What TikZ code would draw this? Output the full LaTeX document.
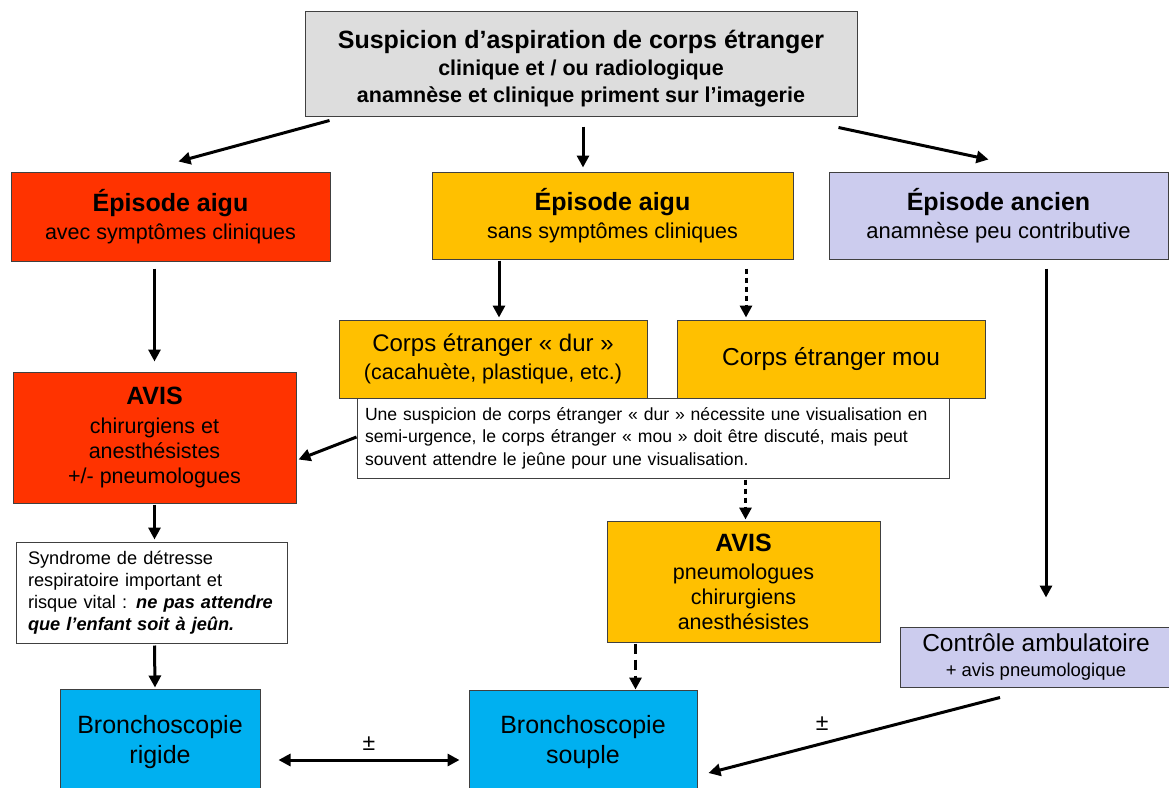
\documentclass[tikz,border=0pt]{standalone}
\usepackage{fontspec}
\setmainfont{Liberation Sans}
\usetikzlibrary{arrows.meta,calc}
\tikzset {>={Triangle[width=12pt,length=12pt]}}

\definecolor{rouge}{HTML}{FF3300}
\definecolor{jaune}{HTML}{FFC000}
\definecolor{lavande}{HTML}{CCCCEE}
\definecolor{gris}{HTML}{DDDDDD}
\definecolor{bleu}{HTML}{00B0F0}

\tikzset{
  cadre/.style={draw=black!75, line width=1pt, inner sep=0pt, align=center},
  fleche/.style={->, line width=3pt},
  pointille/.style={fleche, dash pattern=on 5pt off 4pt},
  tirets/.style={fleche, dash pattern=on 10pt off 6pt},
}

\begin{document}
\begin{tikzpicture}[x=1pt,y=-1pt]
\useasboundingbox (0,0) rectangle (1169,787);
\clip (0,0) rectangle (1169,787);

% Question de depart
\node [cadre, fill=gris, minimum width=552pt, minimum height=105pt,
       font=\fontsize{21.5}{26.5}\selectfont\bfseries] (susp) at (581,63.5)
  {\rule{0pt}{28pt}{\fontsize{25}{26.5}\selectfont Suspicion d’aspiration de corps étranger}\\[1pt]
   clinique et / ou radiologique\\
   anamnèse et clinique priment sur l’imagerie};

% Les trois episodes
\node [cadre, fill=rouge, minimum width=319pt, minimum height=89pt,
       font=\fontsize{21.5}{28}\selectfont] (aigu) at (170.5,216.5)
  {{\fontsize{25}{28}\selectfont\bfseries Épisode aigu}\\ avec symptômes cliniques};
\node [cadre, fill=jaune, minimum width=361pt, minimum height=87pt,
       font=\fontsize{21.5}{28}\selectfont] (sans) at (612.5,215.5)
  {{\fontsize{25}{28}\selectfont\bfseries Épisode aigu}\\ sans symptômes cliniques};
\node [cadre, fill=lavande, minimum width=339pt, minimum height=87pt,
       font=\fontsize{22}{28}\selectfont] (ancien) at (998.5,215.5)
  {{\fontsize{25}{28}\selectfont\bfseries Épisode ancien}\\ anamnèse peu contributive};

% Corps etrangers dur / mou
\node [cadre, fill=jaune, minimum width=308pt, minimum height=78pt,
       font=\fontsize{21.5}{28}\selectfont] (dur) at (493,359)
  {{\fontsize{24}{28}\selectfont Corps étranger « dur »}\\ (cacahuète, plastique, etc.)};
\node [cadre, fill=jaune, minimum width=308pt, minimum height=78pt,
       font=\fontsize{24.5}{28}\selectfont] (mou) at (831,359)
  {Corps étranger mou};

% Remarque
\node [cadre, fill=white, align=left, text width=576pt, inner xsep=8pt,
       minimum height=80pt, font=\fontsize{17.6}{22.5}\selectfont] (note) at (653,438)
  {Une suspicion de corps étranger « dur » nécessite une visualisation en\\
   semi-urgence, le corps étranger « mou » doit être discuté, mais peut\\
   souvent attendre le jeûne pour une visualisation.};

% Avis
\node [cadre, fill=rouge, minimum width=283pt, minimum height=131pt,
       font=\fontsize{21.5}{25}\selectfont] (avisR) at (154.5,437.5)
  {{\fontsize{25}{25}\selectfont\bfseries AVIS}\\[4pt] chirurgiens et\\ anesthésistes\\ +/- pneumologues};
\node [cadre, fill=jaune, minimum width=273pt, minimum height=121pt,
       font=\fontsize{21.5}{25}\selectfont] (avisO) at (743.5,581.5)
  {{\fontsize{25}{25}\selectfont\bfseries AVIS}\\[3pt] pneumologues\\ chirurgiens\\ anesthésistes};

\node [cadre, fill=white, align=left, text width=247pt, inner xsep=12pt,
       minimum height=101pt, font=\fontsize{18.2}{22}\selectfont] (synd) at (151.5,592.5)
  {Syndrome de détresse\\ respiratoire important et\\
   risque vital : \textbf{\textit{ne pas attendre}}\\ \textbf{\textit{que l’enfant soit à jeûn.}}};

\node [cadre, fill=lavande, minimum width=272pt, minimum height=60pt,
       font=\fontsize{18.5}{25}\selectfont] (controle) at (1036,657)
  {{\fontsize{24.5}{25}\selectfont Contrôle ambulatoire}\\ + avis pneumologique};

% Bronchoscopies
\node [cadre, fill=bleu, minimum width=200pt, minimum height=106pt,
       font=\fontsize{25}{30}\selectfont] (rigide) at (160,742)
  {Bronchoscopie\\ rigide};
\node [cadre, fill=bleu, minimum width=228pt, minimum height=105pt,
       font=\fontsize{25}{30}\selectfont] (souple) at (583,742.5)
  {Bronchoscopie\\ souple};

% Fleches
\draw [fleche] ($(susp.south west)+(25,4)$) -- ($(aigu.north)+(8,-10)$);
\draw [fleche] ($(susp.south)+(2,10)$) -- ($(sans.north)+(-29.5,-4)$);
\draw [fleche] ($(susp.south east)+(-19,11)$) -- ($(ancien.north)+(-10,-12)$);

\draw [fleche] ($(aigu.south -| avisR.north)+(0,7)$) -- ($(avisR.north)+(0,-10)$);
\draw [fleche] ($(dur.north |- sans.south)+(6,1)$) -- ($(dur.north)+(6,-2)$);
\draw [pointille] ($(mou.north |- sans.south)+(-85,9)$) -- ($(mou.north)+(-85,-2)$);

\draw [fleche] ($(note.west)+(0,-1)$) -- ($(avisR.east)+(2,22)$);
\draw [pointille] ($(avisO.north |- note.south)+(2,1)$) -- ($(avisO.north)+(2,-1)$);

\draw [fleche] ($(avisR.south)+(0,1)$) -- ($(synd.north -| avisR.south)+(0,-2)$);
\draw [fleche] ($(synd.south -| avisR.south)+(0,2)$) -- ($(rigide.north)+(-5,-1)$);
\draw [tirets] ($(avisO.south west)+(29,1)$) -- ($(souple.north -| avisO.south west)+(29,0)$);

\draw [fleche] ($(ancien.south)+(47.5,9)$) -- ($(controle.north)+(10,-29)$);

% Liens entre bronchoscopies
\draw [fleche, <->] ($(rigide.east)+(18,18)$) --
   node[above=5pt, font=\fontsize{23}{24}\selectfont] (pm1) {±}
   ($(souple.west)+(-9,17.5)$);
\draw [fleche] ($(controle.south)+(-36,10)$) --
   node[pos=0.6, above=7pt, xshift=-3pt, font=\fontsize{23}{24}\selectfont] (pm2) {±}
   ($(souple.east)+(11,30.5)$);
\end{tikzpicture}
\end{document}
